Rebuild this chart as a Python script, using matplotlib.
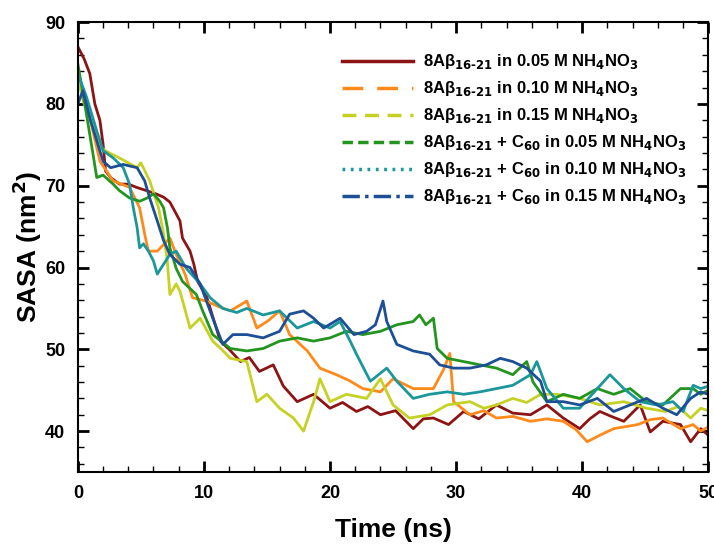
import matplotlib
matplotlib.use("Agg")
import matplotlib.pyplot as plt
from matplotlib.lines import Line2D
from matplotlib.ticker import MultipleLocator

plt.rcParams['font.family'] = ['Liberation Sans', 'DejaVu Sans']
plt.rcParams['font.weight'] = 'bold'
plt.rcParams['mathtext.default'] = 'bf'

# --- data (time in ns, SASA in nm^2) ---
t_red = [0, 0.5, 0.95, 1.35, 1.75, 2.0, 2.2, 2.6, 3.3, 4.0, 4.65, 5.45, 6.2, 6.8, 7.3, 8.1, 8.3, 8.9, 9.2, 9.5,
         10.2, 11.3, 12.0, 12.9, 13.6, 14.4, 15.5, 16.3, 17.4, 18.7, 20.0, 21.0, 22.1, 23.0, 24.0, 25.2, 26.6,
         27.4, 28.2, 29.4, 30.6, 31.8, 33.2, 34.5, 35.9, 37.2, 38.5, 39.8, 40.6, 41.4, 42.3, 43.3, 44.6, 45.4,
         46.4, 47.8, 48.6, 49.4, 50]
v_red = [87, 85.5, 83.7, 80, 78, 75.1, 71.8, 71, 70.2, 70.2, 69.8, 69.4, 69, 68.6, 68, 65.7, 63.6, 62, 60.4, 58.3,
         56.5, 51, 50, 48.5, 49, 47.3, 48.1, 45.5, 43.6, 44.5, 42.8, 43.5, 42.4, 43, 42, 42.5, 40.3,
         41.5, 41.6, 40.8, 42.4, 41.5, 43.2, 42.2, 42, 43.2, 41.6, 40.3, 41.5, 42.4, 41.8, 41.2, 43.2, 39.9,
         41.2, 40.8, 38.7, 40.3, 39.5]

t_orange = [0, 0.5, 1.0, 1.75, 2.8, 4.1, 4.9, 5.3, 5.6, 6.3, 7.3, 7.8, 8.5, 9.1, 10.2, 11.2, 12.1, 13.4, 14.2,
            15.1, 16, 16.8, 18.2, 19.2, 20.5, 21.5, 22.6, 24, 25, 26.6, 28.2, 29.0, 29.5, 29.8, 31.1, 32.2,
            33.2, 34.5, 35.9, 37.2, 38.5, 39.5, 40.4, 41.4, 42.5, 44.4, 45.4, 46.4, 47.8, 48.8, 49.4, 50]
v_orange = [84, 81, 78, 73, 70.6, 69.8, 67.3, 64.1, 62, 62, 63.6, 61.6, 59.2, 56.3, 55.9, 55.2, 54.7, 55.9, 52.6,
            53.5, 54.7, 51.8, 49.8, 47.7, 46.9, 46.2, 45.2, 44.8, 46.4, 45.2, 45.2, 47.5, 49.5, 43.6, 42, 42.5,
            41.6, 41.8, 41.2, 41.5, 41.2, 40.2, 38.7, 39.5, 40.3, 40.8, 41.4, 41.6, 40.3, 40.8, 40, 40.5]

t_yellow = [0, 0.5, 1, 1.75, 2.5, 3.3, 4.0, 4.7, 5.0, 5.7, 6.4, 6.8, 7.1, 7.3, 7.8, 8.1, 8.6, 8.9, 9.7, 10.7,
            11.4, 12.1, 13.4, 14.2, 15, 16, 17.1, 17.9, 18.7, 19.2, 20, 21.3, 22.9, 24, 25, 26.3, 27.9, 29.3,
            31.1, 32.2, 33.2, 34.5, 35.6, 36.7, 38, 39.8, 41.4, 43.3, 45.1, 46.6, 47.6, 48.6, 49.4, 50]
v_yellow = [83, 80, 78, 74.7, 74, 73.4, 72.8, 72.2, 72.8, 70.6, 67.3, 64.1, 60.8, 56.7, 58, 57.1, 54.3, 52.6, 53.8, 51,
            50, 48.9, 48.5, 43.6, 44.5, 42.8, 41.6, 40, 43.6, 46.4, 43.6, 44.5, 44, 46.4, 43.2, 41.6, 42, 43.2,
            43.6, 42.8, 43.2, 44, 43.5, 44.5, 44.5, 44, 43.2, 43.6, 42.8, 42.4, 43, 41.6, 42.8, 42.5]

t_green = [0, 0.55, 1.2, 1.5, 2.0, 2.8, 3.3, 4.1, 4.9, 5.5, 6.0, 6.5, 6.8, 7.1, 7.3, 7.8, 8.3, 9.4, 9.9, 10.7,
           12.1, 13.4, 14.7, 16, 17.4, 18.7, 20, 21.3, 22.6, 24, 25.3, 26.6, 27.1, 27.6, 28.2, 28.5, 29.3,
           30.6, 31.9, 33.2, 34.5, 35.6, 36.1, 37.2, 38.5, 39.8, 41.2, 42.5, 43.8, 45.1, 46.4, 47.8, 48.8,
           49.4, 50]
v_green = [84.9, 80, 73.9, 71, 71.3, 70.2, 69.4, 68.5, 68.1, 68.5, 69, 68.1, 67.3, 64.9, 62.4, 59.9, 58.3, 56.7,
           54.7, 51.8, 50.1, 49.8, 50.1, 51, 51.4, 51, 51.4, 52.2, 51.8, 52.2, 53, 53.4, 54.2, 53, 53.8, 50.1,
           48.9, 48.5, 48.1, 47.7, 46.9, 48.5, 46, 43.6, 44.5, 44, 45.2, 44.5, 45.2, 43.6, 43.2, 45.2, 45.2,
           44.5, 45]

t_teal = [0, 0.7, 1.5, 2.0, 2.8, 3.6, 4.1, 4.4, 4.7, 4.9, 5.2, 5.6, 6.0, 6.3, 6.8, 7.3, 7.8, 8.6, 9.7, 10.5,
          11.5, 12.6, 13.4, 14.7, 16, 17.4, 18.7, 20, 20.8, 21.6, 22.1, 23.2, 24.5, 25.3, 26.6, 27.9, 29.3,
          30.6, 31.9, 33.2, 34.5, 35.9, 36.4, 37.2, 38.5, 39.8, 41.2, 42.2, 43.3, 44.6, 45.9, 47.2, 48,
          48.8, 49.4, 50]
v_teal = [83.7, 80.8, 76.7, 74.3, 73.4, 72.2, 70.2, 67.3, 64.9, 62.4, 62.9, 62, 60.8, 59.2, 60.4, 61.6, 62,
          59.9, 58, 56.3, 55, 54.5, 55, 54.2, 54.7, 52.6, 53.4, 52.6, 53.4, 51, 49.4, 46.1, 47.7, 46.1, 44,
          44.5, 44.8, 44.5, 44.8, 45.2, 45.6, 46.9, 48.5, 45.2, 42.8, 42.8, 45.2, 46.9, 45.2, 43.6, 43.2,
          43.6, 42.4, 45.6, 45.2, 45.5]

t_blue = [0, 0.4, 1, 1.5, 2, 2.6, 3.6, 4.7, 5.3, 5.7, 6.3, 6.8, 7.3, 8.1, 8.9, 9.7, 10.7, 11.5, 12.3, 13.4,
          14.7, 16, 16.8, 17.9, 18.7, 19.5, 20.8, 21.9, 22.9, 23.6, 24.2, 24.5, 25.3, 26.6, 27.9, 28.7, 29.8,
          31.1, 32.4, 33.5, 34.5, 35.6, 36.7, 37.2, 38.5, 39.8, 41.2, 42.5, 43.8, 45.1, 46.4, 47.5, 48.6,
          49.4, 50]
v_blue = [80, 81.6, 78, 75.5, 73, 72.2, 72.6, 72.2, 70.6, 68.5, 65.7, 63.3, 61.6, 60.4, 60, 58, 53.8, 50.6,
          51.8, 51.8, 51.4, 52.2, 54.3, 54.7, 53.8, 52.6, 53.8, 51.8, 52.2, 53, 55.9, 53.4, 50.6, 49.8, 49.4,
          48.1, 47.7, 47.7, 48.1, 48.9, 48.5, 47.7, 46.1, 43.6, 43.6, 43.2, 44, 42.4, 43.2, 44, 42.8, 42,
          44, 44.8, 44.5]

labels = [
    r'8Aβ$_{16\text{-}21}$ in 0.05 M NH$_4$NO$_3$',
    r'8Aβ$_{16\text{-}21}$ in 0.10 M NH$_4$NO$_3$',
    r'8Aβ$_{16\text{-}21}$ in 0.15 M NH$_4$NO$_3$',
    r'8Aβ$_{16\text{-}21}$ + C$_{60}$ in 0.05 M NH$_4$NO$_3$',
    r'8Aβ$_{16\text{-}21}$ + C$_{60}$ in 0.10 M NH$_4$NO$_3$',
    r'8Aβ$_{16\text{-}21}$ + C$_{60}$ in 0.15 M NH$_4$NO$_3$',
]

colors = ['#8c1414', '#ff8a1c', '#c5d123', '#23951f', '#1b979c', '#1d4f97']
styles = ['-', (0, (6, 4)), (0, (4, 2.5)), (0, (3, 1.5)), (0, (0.8, 1.6)), (0, (5, 1.5, 1, 1.5))]

series = [(t_red, v_red), (t_orange, v_orange), (t_yellow, v_yellow),
          (t_green, v_green), (t_teal, v_teal), (t_blue, v_blue)]

fig = plt.figure(figsize=(7.14, 5.46), dpi=100)
ax = fig.add_axes([0.109, 0.1355, 0.883, 0.824])

for (t, v), c in zip(series, colors):
    ax.plot(t, v, color=c, lw=2.0)

ax.set_xlim(0, 50)
ax.set_ylim(35, 90)
ax.xaxis.set_major_locator(MultipleLocator(10))
ax.xaxis.set_minor_locator(MultipleLocator(2))
ax.yaxis.set_minor_locator(MultipleLocator(2))
ax.set_yticks([40, 50, 60, 70, 80, 90])
ax.tick_params(which='both', direction='in', top=True, right=True)
ax.tick_params(which='major', length=8, width=2, labelsize=13, pad=9)
ax.tick_params(which='minor', length=4, width=1)
for s in ax.spines.values():
    s.set_linewidth(1.5)

ax.set_xlabel('Time (ns)', fontsize=19, fontweight='bold', labelpad=12)
ax.set_ylabel(r'SASA (nm$^2$)', fontsize=19, fontweight='bold', labelpad=1)

handles = [Line2D([0], [0], color=c, lw=2.5, linestyle=ls) for c, ls in zip(colors, styles)]
ax.legend(handles, labels, loc='upper right', bbox_to_anchor=(0.99, 0.966), frameon=False,
          fontsize=12, handlelength=4.3, handletextpad=0.6, labelspacing=0.48)

fig.savefig('out.png', dpi=100)
